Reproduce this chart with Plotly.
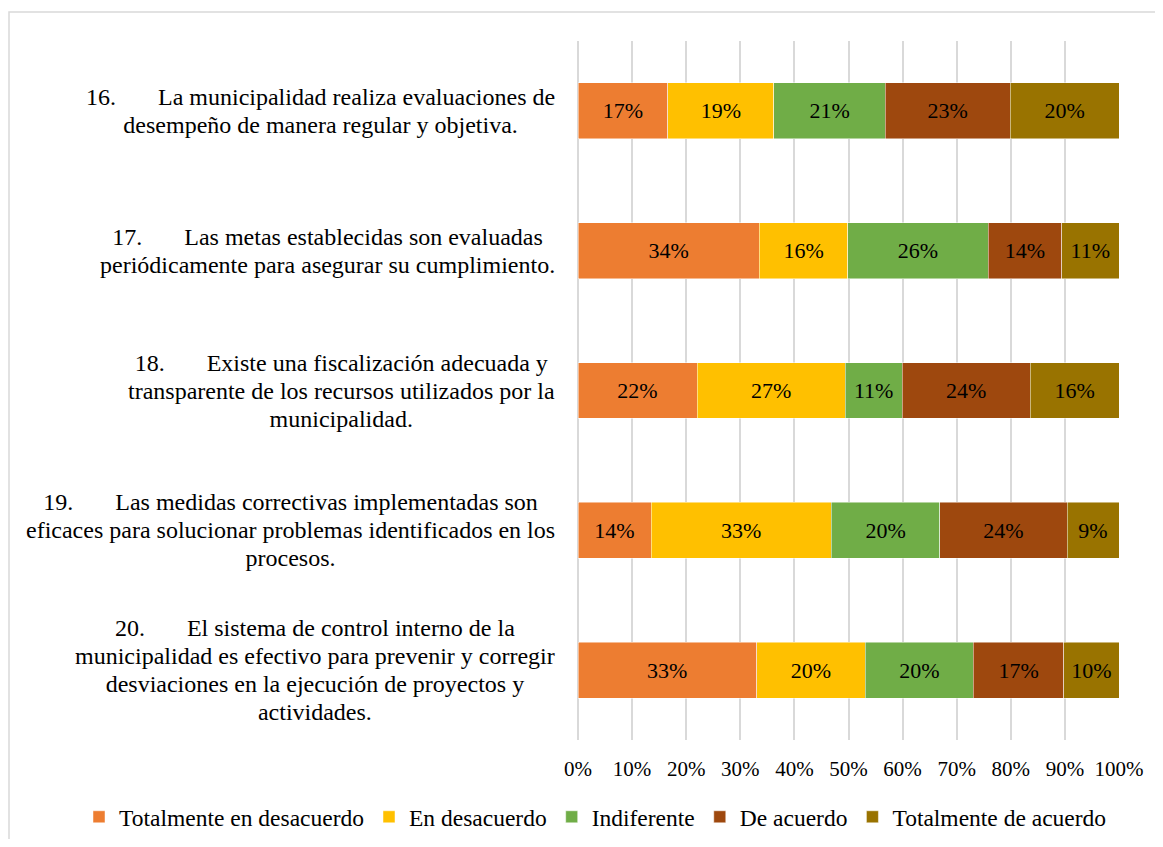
import plotly.graph_objects as go

# ---- data ----
item_keys = ["P16", "P17", "P18", "P19", "P20"]
TAB = "\u00a0" * 7
item_labels = [
    "16." + TAB + "La municipalidad realiza evaluaciones de<br>desempeño de manera regular y objetiva.",
    "17." + TAB + "Las metas establecidas son evaluadas<br>periódicamente para asegurar su cumplimiento.",
    "18." + TAB + "Existe una fiscalización adecuada y<br>transparente de los recursos utilizados por la<br>municipalidad.",
    "19." + TAB + "Las medidas correctivas implementadas son<br>eficaces para solucionar problemas identificados en los<br>procesos.",
    "20." + TAB + "El sistema de control interno de la<br>municipalidad es efectivo para prevenir y corregir<br>desviaciones en la ejecución de proyectos y<br>actividades.",
]
series_names = ["Totalmente en desacuerdo", "En desacuerdo", "Indiferente",
                "De acuerdo", "Totalmente de acuerdo"]
# values (percent of respondents), one list per answer option, items 16..20
tot_desacuerdo = [16.6, 33.5, 22.0, 13.5, 33.0]
en_desacuerdo = [19.6, 16.4, 27.4, 33.3, 20.1]
indiferente = [20.6, 25.9, 10.5, 20.1, 20.0]
de_acuerdo = [23.1, 13.6, 23.7, 23.5, 16.7]
tot_acuerdo = [20.1, 10.6, 16.4, 9.6, 10.2]
# labels as printed on the bars
lbl_tot_desacuerdo = ["17%", "34%", "22%", "14%", "33%"]
lbl_en_desacuerdo = ["19%", "16%", "27%", "33%", "20%"]
lbl_indiferente = ["21%", "26%", "11%", "20%", "20%"]
lbl_de_acuerdo = ["23%", "14%", "24%", "24%", "17%"]
lbl_tot_acuerdo = ["20%", "11%", "16%", "9%", "10%"]
x_tick_vals = [0, 10, 20, 30, 40, 50, 60, 70, 80, 90, 100]
x_tick_text = ["0%", "10%", "20%", "30%", "40%", "50%", "60%", "70%", "80%", "90%", "100%"]

series_values = [tot_desacuerdo, en_desacuerdo, indiferente, de_acuerdo, tot_acuerdo]
series_labels = [lbl_tot_desacuerdo, lbl_en_desacuerdo, lbl_indiferente, lbl_de_acuerdo, lbl_tot_acuerdo]
colors = ["#ED7D31", "#FFC000", "#70AD47", "#9E480E", "#997300"]

FONT = "Liberation Serif, Times New Roman, serif"

fig = go.Figure()
for name, vals, labs, col in zip(series_names, series_values, series_labels, colors):
    fig.add_trace(go.Bar(
        y=item_keys, x=vals, name=name, orientation="h",
        marker=dict(color=col, line=dict(color="rgba(255,255,255,0.6)", width=0.8)),
        text=labs, textposition="inside", insidetextanchor="middle",
        textangle=0, constraintext="none",
        textfont=dict(family=FONT, size=22, color="black"),
        width=0.4, hoverinfo="skip",
    ))

# page body has an 8px margin: figure origin sits at screen (8, 8)
OFF = 8
W, H = 1147, 831
L, T = 578 - OFF, 41 - OFF
R = W - (1119 - OFF)
B = H - (740 - OFF)
pw, ph = W - L - R, H - T - B


def px_x(sx):
    return (sx - OFF - L) / pw


def px_y(sy):
    return 1 - (sy - OFF - T) / ph


annotations = []
for key, lab in zip(item_keys, item_labels):
    # line spacing from the 21.5px base font (~28px), glyphs drawn at 24px
    styled = "<br>".join('<span style="font-size:24px">' + ln + "</span>" for ln in lab.split("<br>"))
    annotations.append(dict(
        x=px_x(557), xref="paper", y=key, yref="y", text=styled, showarrow=False,
        xanchor="right", yanchor="middle", align="center",
        font=dict(family=FONT, size=21.5, color="black"),
    ))

fig.update_layout(
    barmode="stack",
    width=W, height=H,
    margin=dict(l=L, r=R, t=T, b=B, pad=0, autoexpand=False),
    paper_bgcolor="white", plot_bgcolor="white",
    font=dict(family=FONT, size=21, color="black"),
    xaxis=dict(range=[0, 100], tickvals=x_tick_vals, ticktext=x_tick_text,
               showgrid=True, gridcolor="#d9d9d9", gridwidth=2,
               zeroline=True, zerolinecolor="#d9d9d9", zerolinewidth=2,
               showline=False, ticks="outside", ticklen=10, tickcolor="rgba(0,0,0,0)",
               tickfont=dict(family=FONT, size=21, color="black"), fixedrange=True),
    yaxis=dict(type="category", categoryorder="array", categoryarray=item_keys,
               autorange="reversed", showticklabels=False, showgrid=False,
               zeroline=False, fixedrange=True),
    showlegend=True,
    legend=dict(orientation="h", x=px_x(79), xanchor="left",
                y=px_y(817), yanchor="middle",
                font=dict(family=FONT, size=23.5, color="black"),
                itemwidth=30, traceorder="normal", bgcolor="rgba(0,0,0,0)"),
    annotations=annotations,
    shapes=[dict(type="rect", xref="paper", yref="paper",
                 x0=px_x(9), x1=px_x(1190),
                 y0=px_y(12), y1=px_y(880),
                 line=dict(color="#d9d9d9", width=1.5), fillcolor="rgba(0,0,0,0)",
                 layer="below")],
)

fig.write_html("out.html")
